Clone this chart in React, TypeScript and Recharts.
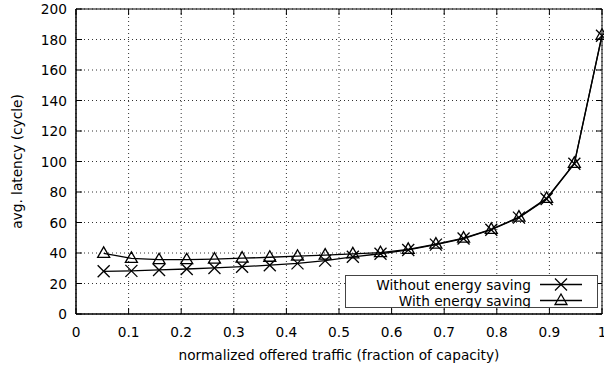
import React from 'react';
import { LineChart, Line, XAxis, YAxis, CartesianGrid, ReferenceArea, Legend } from 'recharts';

const loadValues = [0.0526, 0.1053, 0.1579, 0.2105, 0.2632, 0.3158, 0.3684, 0.4211, 0.4737, 0.5263, 0.5789, 0.6316, 0.6842, 0.7368, 0.7895, 0.8421, 0.8947, 0.9474, 1.0];
const withoutSaving = [28.0, 28.3, 28.9, 29.5, 30.2, 31.0, 32.0, 33.2, 35.0, 37.5, 39.5, 42.0, 45.5, 49.5, 55.3, 63.2, 75.4, 98.5, 182.5];
const withSaving = [39.8, 36.5, 35.6, 35.6, 36.0, 36.6, 37.2, 37.9, 38.6, 39.4, 40.2, 42.4, 45.8, 49.8, 55.5, 63.5, 75.8, 98.8, 182.8];
const xTicks = [0, 0.1, 0.2, 0.3, 0.4, 0.5, 0.6, 0.7, 0.8, 0.9, 1];
const yTicks = [0, 20, 40, 60, 80, 100, 120, 140, 160, 180, 200];
const seriesNames = ['Without energy saving', 'With energy saving'];

const data = loadValues.map((x, i) => ({ x, without: withoutSaving[i], with: withSaving[i] }));

const FONT = 'DejaVu Sans, sans-serif';
const FS = 13.7;
const PLOT_LEFT = 76;
const PLOT_RIGHT = 602;
const PLOT_TOP = 9;
const PLOT_BOTTOM = 314;
const TICK_LEN = 6;

const Cross = (props: any) => {
  const { cx, cy } = props;
  if (cx == null || cy == null) return null;
  const r = 6;
  return (
    <g>
      <line x1={cx - r} y1={cy - r} x2={cx + r} y2={cy + r} stroke="#000" strokeWidth={1.3} />
      <line x1={cx - r} y1={cy + r} x2={cx + r} y2={cy - r} stroke="#000" strokeWidth={1.3} />
    </g>
  );
};

const Triangle = (props: any) => {
  const { cx, cy } = props;
  if (cx == null || cy == null) return null;
  return (
    <polygon
      points={`${cx},${cy - 6.5} ${cx - 6},${cy + 4} ${cx + 6},${cy + 4}`}
      fill="none"
      stroke="#000"
      strokeWidth={1.3}
    />
  );
};

const XTick = (props: any) => {
  const { x, payload } = props;
  return (
    <g>
      <line x1={x} y1={PLOT_BOTTOM} x2={x} y2={PLOT_BOTTOM - TICK_LEN} stroke="#000" />
      <line x1={x} y1={PLOT_TOP} x2={x} y2={PLOT_TOP + TICK_LEN} stroke="#000" />
      <text x={x} y={336.5} textAnchor="middle" fontFamily={FONT} fontSize={FS} fill="#000">
        {String(payload.value)}
      </text>
    </g>
  );
};

const YTick = (props: any) => {
  const { y, payload } = props;
  return (
    <g>
      <line x1={PLOT_LEFT} y1={y} x2={PLOT_LEFT + TICK_LEN} y2={y} stroke="#000" />
      <line x1={PLOT_RIGHT} y1={y} x2={PLOT_RIGHT - TICK_LEN} y2={y} stroke="#000" />
      <text x={PLOT_LEFT - 9} y={y + 5} textAnchor="end" fontFamily={FONT} fontSize={FS} fill="#000">
        {String(payload.value)}
      </text>
    </g>
  );
};

const LegendBox = () => {
  const rows = [
    { name: seriesNames[0], marker: 'cross' },
    { name: seriesNames[1], marker: 'tri' },
  ];
  return (
    <div
      style={{
        width: 253,
        height: 33,
        border: '1px solid #444',
        background: '#fff',
        boxSizing: 'border-box',
        position: 'relative',
      }}
    >
      <svg width={253} height={33} style={{ position: 'absolute', left: -1, top: -1 }}>
        {rows.map((r, i) => {
          const cy = 9.5 + i * 16;
          return (
            <g key={r.name}>
              <text x={186} y={cy + 5} textAnchor="end" fontFamily={FONT} fontSize={FS} fill="#000">
                {r.name}
              </text>
              <line x1={195} y1={cy} x2={237} y2={cy} stroke="#000" strokeWidth={1.3} />
              {r.marker === 'cross' ? <Cross cx={216} cy={cy} /> : <Triangle cx={216} cy={cy} />}
            </g>
          );
        })}
      </svg>
    </div>
  );
};

const XTitle = (props: any) => {
  const vb = props.viewBox || {};
  const cx = (vb.x ?? PLOT_LEFT) + (vb.width ?? PLOT_RIGHT - PLOT_LEFT) / 2;
  return (
    <text x={cx} y={360} textAnchor="middle" fontFamily={FONT} fontSize={FS} fill="#000">
      normalized offered traffic (fraction of capacity)
    </text>
  );
};

const YTitle = (props: any) => {
  const vb = props.viewBox || {};
  const cy = (vb.y ?? PLOT_TOP) + (vb.height ?? PLOT_BOTTOM - PLOT_TOP) / 2;
  return (
    <text
      x={21.5}
      y={cy}
      transform={`rotate(-90, 21.5, ${cy})`}
      textAnchor="middle"
      fontFamily={FONT}
      fontSize={FS}
      fill="#000"
    >
      avg. latency (cycle)
    </text>
  );
};

export default function App() {
  return (
    <div style={{ position: 'fixed', left: 0, top: 0, width: 604, height: 369, background: '#fff' }}>
      <LineChart
        width={604}
        height={369}
        data={data}
        margin={{ top: PLOT_TOP, right: 604 - PLOT_RIGHT, left: 0, bottom: 0 }}
      >
        <CartesianGrid
          stroke="#333"
          strokeDasharray="1 3"
          vertical
          horizontal
          verticalValues={xTicks}
          horizontalValues={yTicks}
        />
        <XAxis
          dataKey="x"
          type="number"
          domain={[0, 1]}
          ticks={xTicks}
          tickLine={false}
          axisLine={{ stroke: '#000' }}
          height={369 - PLOT_BOTTOM}
          tick={<XTick />}
          interval={0}
          label={{ content: (p: any) => <XTitle {...p} /> }}
        />
        <YAxis
          type="number"
          domain={[0, 200]}
          ticks={yTicks}
          tickLine={false}
          axisLine={{ stroke: '#000' }}
          width={PLOT_LEFT}
          tick={<YTick />}
          interval={0}
          label={{ content: (p: any) => <YTitle {...p} /> }}
        />
        <ReferenceArea x1={0} x2={1} y1={0} y2={200} fill="none" stroke="#000" strokeWidth={1} ifOverflow="visible" />
        <Line
          dataKey="without"
          name={seriesNames[0]}
          stroke="#000"
          strokeWidth={1.3}
          dot={<Cross />}
          activeDot={false}
          isAnimationActive={false}
        />
        <Line
          dataKey="with"
          name={seriesNames[1]}
          stroke="#000"
          strokeWidth={1.3}
          dot={<Triangle />}
          activeDot={false}
          isAnimationActive={false}
        />
        <Legend
          content={<LegendBox />}
          layout="horizontal"
          verticalAlign="middle"
          align="center"
          wrapperStyle={{ position: 'absolute', left: 345, top: 275, width: 253, height: 33 }}
        />
      </LineChart>
    </div>
  );
}
